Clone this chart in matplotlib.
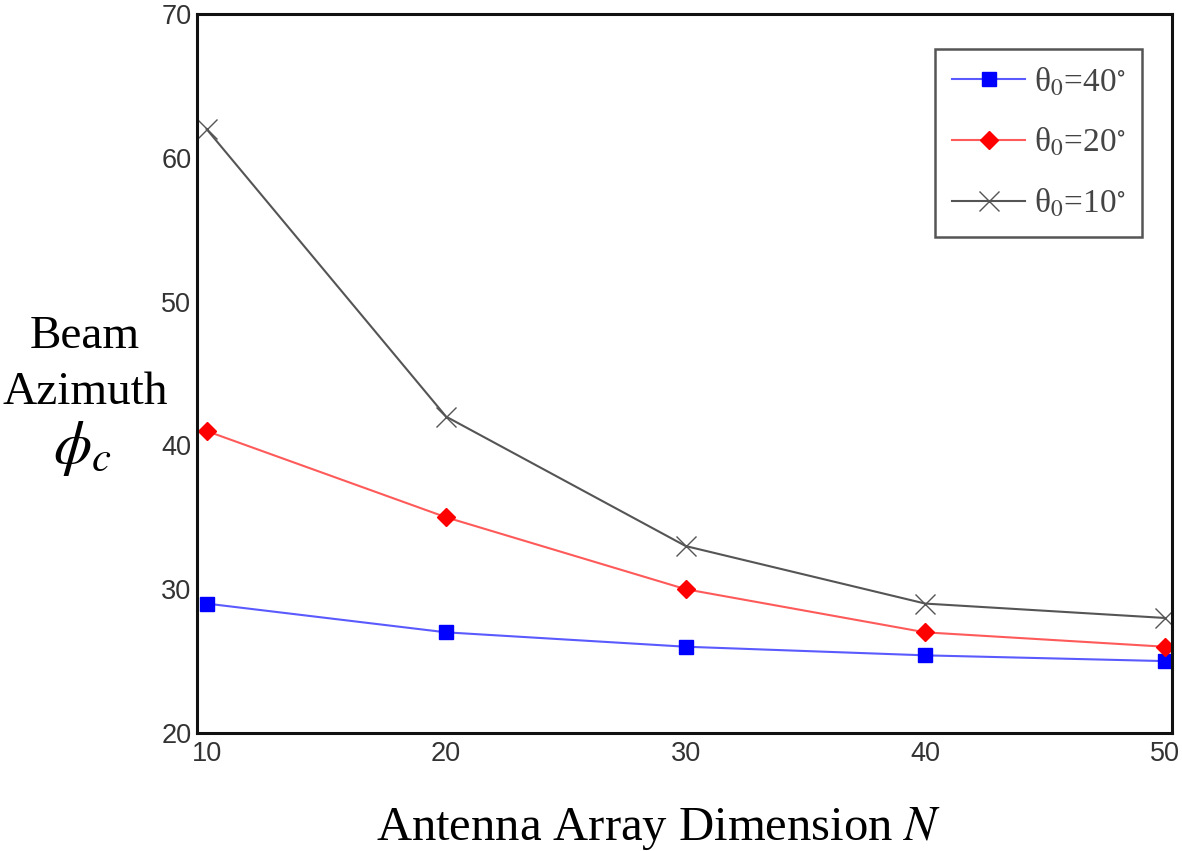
import matplotlib
matplotlib.use("Agg")
import matplotlib.pyplot as plt

N = [10, 20, 30, 40, 50]
theta40 = [29, 27, 26, 25.4, 25]
theta20 = [41, 35, 30, 27, 26]
theta10 = [62, 42, 33, 29, 28]
labels = [r'θ$_0$=40$^{\circ}$', r'θ$_0$=20$^{\circ}$', r'θ$_0$=10$^{\circ}$']
xticks = [10, 20, 30, 40, 50]
yticks = [20, 30, 40, 50, 60, 70]

plt.rcParams['mathtext.fontset'] = 'stix'

fig = plt.figure(figsize=(11.82, 8.51), dpi=100)
ax = fig.add_axes([197/1182, 1-733/851, (1172-197)/1182, (733-14)/851])

ax.plot(N, theta40, color='#5a5aff', lw=1.5, marker='s', ms=9.5,
        mfc='#0000ff', mec='#0000ff', label=labels[0])
ax.plot(N, theta20, color='#ff5a5a', lw=1.5, marker='D', ms=9.5,
        mfc='#ff0000', mec='#ff0000', label=labels[1])
ax.plot(N, theta10, color='#555555', lw=1.5, marker='x', ms=14,
        mew=1.0, label=labels[2])

ax.set_xlim(9.6, 50.3)
ax.set_ylim(20, 70)
ax.set_xticks(xticks)
ax.set_yticks(yticks)
ax.tick_params(length=0, labelsize=19.5, labelcolor='#333333', pad=4)
ax.tick_params(axis='x', pad=6)
for lab in ax.get_xticklabels() + ax.get_yticklabels():
    lab.set_family('Liberation Sans')
for s in ax.spines.values():
    s.set_linewidth(2.2)
    s.set_color('#111111')

leg = ax.legend(loc='upper right', bbox_to_anchor=(1142/1182, 1-49/851),
                bbox_transform=fig.transFigure,
                prop={'family': 'Liberation Serif', 'size': 24},
                fancybox=False, framealpha=1, edgecolor='#555555',
                handlelength=2.2, handletextpad=0.25, labelspacing=0.85,
                borderpad=0.5, borderaxespad=0, labelcolor='#444444')
leg.get_frame().set_linewidth(1.8)

fig.text(659/1182, 1-828/851, r'Antenna Array Dimension $N$',
         family='Liberation Serif', fontsize=35, ha='center', va='center')
fig.text(85/1182, 1-337/851, 'Beam', family='Liberation Serif',
         fontsize=34, ha='center', va='center')
fig.text(85/1182, 1-393/851, 'Azimuth', family='Liberation Serif',
         fontsize=34, ha='center', va='center')
fig.text(82/1182, 1-448/851, r'$\phi_c$', fontsize=44, ha='center', va='center')

fig.savefig('out.png', dpi=100)
